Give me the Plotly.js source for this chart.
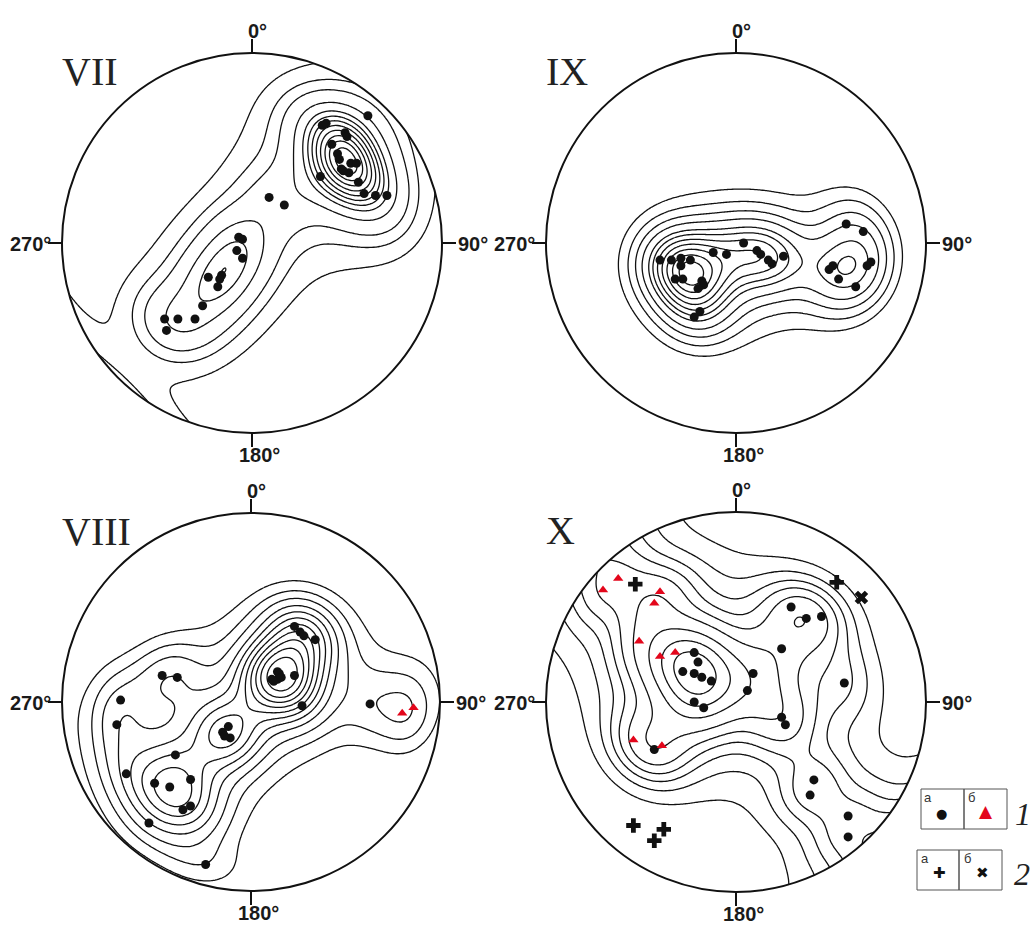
<!DOCTYPE html>
<html><head><meta charset="utf-8">
<script src="https://cdn.plot.ly/plotly-3.0.1.min.js"></script>
<style>html,body{margin:0;padding:0;background:#fff;}#chart{width:1032px;height:925px;}</style>
</head><body><div id="chart"></div>
<script>
// ---- DATA: poles on equal-area net (lower hemisphere), net radius = 100, x = east, y = north ----
const panelNames = ['VII', 'IX', 'VIII', 'X'];
const degreeLabels = ['0°', '90°', '180°', '270°'];

const VII_dots = [[61,67],[37,62],[39,63],[49,58],[50,56],[42,52],[45,47],[46,44],[52,42],[55,42],[47,39],[51,37],[48,38],[36,35],[56,32],[59,26],[65,25],[71,25],[9,24],[17,20],[-7,3],[-5,2],[-8,-4],[-5,-8],[-16,-17],[-17,-19],[-18,-23],[-23,-18],[-26,-33],[-30,-40],[-39,-40],[-46,-40],[-45,-46]];

const IX_dots = [[-40,-9],[-34,-9],[-29,-8],[-24,-9],[-29,-12],[-32,-19],[-28,-19],[-18,-20],[-17,-22],[-20,-24],[-12,-5],[-5,-6],[-19,-36],[-22,-39],[4,0],[11,-4],[13,-6],[17,-9],[19,-11],[25,-7],[58,10],[67,6],[51,-12],[49,-14],[54,-19],[63,-23],[71,-10],[69,-12]];

const VIII_dots = [[23,40],[26,37],[28,35],[34,33],[14,16],[15,15],[11,12],[14,12],[16,13],[12,11],[23,14],[27,-2],[-47,14],[-39,13],[-69,1],[-71,-12],[-15,-16],[-12,-13],[-11,-19],[-14,-18],[63,-1],[-40,-28],[-66,-38],[-51,-43],[-43,-45],[-32,-41],[-36,-57],[-32,-55],[-54,-64],[-24,-86]];
const VIII_tri = [[80,-6],[86,-3]];

const X_dots = [[-22,26],[-20,21],[-28,16],[-22,15],[-18,13],[-13,11],[-22,0],[-17,-3],[9,15],[6,6],[24,28],[24,-8],[26,-12],[29,50],[37,44],[45,45],[57,10],[-43,-25],[41,-41],[39,-49],[59,-60],[59,-71]];
const X_tri = [[-62,65],[-70,59],[-40,58],[-43,52],[-51,32],[-40,24],[-32,26],[-54,-20],[-39,-23]];
const X_plus = [[-53,62],[53,63],[-54,-65],[-38,-67],[-43,-73]];
const X_cross = [[66,55]];

// contour levels (density units) for each diagram
const VII_levels = [1.5, 2.5, 3.6, 5.6, 7.3, 8.4, 9.4, 10.4, 11.4, 12.4, 13.3, 14.2];
const IX_levels = [2.0, 2.9, 3.9, 5.0, 6.3, 7.2, 8.2, 9.2, 10.2, 11.2, 12.1];
const VIII_levels = [1.6, 2.3, 3.05, 3.9, 4.7, 5.5, 6.3, 7.1, 7.9, 8.7, 9.6];
const X_levels = [1.0, 1.6, 2.2, 2.8, 3.5, 4.5, 6.0, 7.5, 9.0];

const legendLetters = ['а', 'б'];
const legendNumbers = ['1', '2'];

// ---- LAYOUT / STYLE ----
const W = 1032, H = 925;
const NET = 100;
const KERNEL = {k1: 28, k2: 5, b: 0.22};
const panels = [
  {name: panelNames[0], cx: 252, cy: 243, r: 190, q: [0, 494, 0, 473], dots: VII_dots, tri: [], plus: [], cross: [], levels: VII_levels},
  {name: panelNames[1], cx: 736, cy: 243, r: 190, q: [494, 1032, 0, 473], dots: IX_dots, tri: [], plus: [], cross: [], levels: IX_levels},
  {name: panelNames[2], cx: 251, cy: 702, r: 189, q: [0, 494, 473, 925], dots: VIII_dots, tri: VIII_tri, plus: [], cross: [], levels: VIII_levels},
  {name: panelNames[3], cx: 736, cy: 702, r: 190, q: [494, 1032, 473, 925], dots: X_dots, tri: X_tri, plus: X_plus, cross: X_cross, levels: X_levels}
];

function toVec(x, y) {
  const R = Math.hypot(x, y);
  if (R < 1e-9) return [0, 0, -1];
  const th = 2 * Math.asin(Math.min(R / Math.SQRT2, 1));
  const s = Math.sin(th);
  return [s * x / R, s * y / R, -Math.cos(th)];
}

const traces = [];
const layout = {
  width: W, height: H, margin: {l: 0, r: 0, t: 0, b: 0},
  paper_bgcolor: '#fff', plot_bgcolor: 'rgba(0,0,0,0)', showlegend: false,
  shapes: [], annotations: []
};
const degFont = {family: 'Liberation Sans, Arial', size: 20, color: '#1a1a1a', weight: 'bold'};

panels.forEach((p, i) => {
  const k = i + 1;
  const xa = k === 1 ? 'x' : 'x' + k, ya = k === 1 ? 'y' : 'y' + k;
  const xk = k === 1 ? 'xaxis' : 'xaxis' + k, yk = k === 1 ? 'yaxis' : 'yaxis' + k;
  const [qx0, qx1, qy0, qy1] = p.q;
  layout[xk] = {domain: [qx0 / W, qx1 / W], range: [(qx0 - p.cx) / p.r, (qx1 - p.cx) / p.r], visible: false, fixedrange: true, anchor: ya};
  layout[yk] = {domain: [1 - qy1 / H, 1 - qy0 / H], range: [(p.cy - qy1) / p.r, (p.cy - qy0) / p.r], visible: false, fixedrange: true, anchor: xa};

  // density grid (axial spherical kernel, narrow + broad component)
  const pts = p.dots.concat(p.tri).map(d => toVec(d[0] / NET, d[1] / NET));
  const n = 211, ext = 1.05;
  const g = [];
  for (let t = 0; t < n; t++) g.push(-ext + 2 * ext * t / (n - 1));
  const z = [];
  for (let j = 0; j < n; j++) {
    const row = [];
    for (let ii = 0; ii < n; ii++) {
      const v = toVec(g[ii], g[j]);
      let s = 0;
      for (const q of pts) {
        const c = Math.abs(v[0] * q[0] + v[1] * q[1] + v[2] * q[2]);
        s += Math.exp(KERNEL.k1 * (c - 1)) + KERNEL.b * Math.exp(KERNEL.k2 * (c - 1));
      }
      row.push(s);
    }
    z.push(row);
  }
  p.levels.forEach(L => traces.push({type: 'contour', x: g, y: g, z: z, xaxis: xa, yaxis: ya, showscale: false, hoverinfo: 'skip',
    autocontour: false, contours: {coloring: 'none', start: L, end: L, size: 1, showlabels: false},
    line: {color: '#111', width: 1.3, smoothing: 1}}));

  const sc = (arr, marker) => traces.push({type: 'scatter', mode: 'markers', x: arr.map(d => d[0] / NET), y: arr.map(d => d[1] / NET),
    xaxis: xa, yaxis: ya, hoverinfo: 'skip', marker: marker});
  if (p.dots.length) sc(p.dots, {symbol: 'circle', size: 9, color: '#111'});
  if (p.tri.length) sc(p.tri, {symbol: 'triangle-up', size: 9, color: '#e3061b'});
  if (p.plus.length) sc(p.plus, {symbol: 'cross', size: 12, color: '#111'});
  if (p.cross.length) sc(p.cross, {symbol: 'x', size: 12, color: '#111'});

  // white mask outside the net circle
  const m = 1.07;
  let path = `M${-m},${-m} L${m},${-m} L${m},${m} L${-m},${m} Z `;
  const N = 240;
  for (let t = 0; t <= N; t++) {
    const a = -2 * Math.PI * t / N;
    path += (t === 0 ? 'M' : 'L') + Math.cos(a).toFixed(5) + ',' + Math.sin(a).toFixed(5) + ' ';
  }
  path += 'Z';
  layout.shapes.push({type: 'path', xref: xa, yref: ya, path: path, fillcolor: '#fff', fillrule: 'evenodd', line: {width: 0}, layer: 'above'});
  layout.shapes.push({type: 'circle', xref: xa, yref: ya, x0: -1, x1: 1, y0: -1, y1: 1, line: {color: '#111', width: 2}, layer: 'above'});
  const tl = 14 / p.r;
  const tk = [[0, 1, 0, 1 + tl], [1, 0, 1 + tl, 0], [0, -1, 0, -1 - tl], [-1, 0, -1 - tl, 0]];
  tk.forEach(t => layout.shapes.push({type: 'line', xref: xa, yref: ya, x0: t[0], y0: t[1], x1: t[2], y1: t[3], line: {color: '#111', width: 2}, layer: 'above'}));

  const u = v => v / p.r;
  layout.annotations.push({xref: xa, yref: ya, x: u(-6), y: 1 + u(22), text: degreeLabels[0], showarrow: false, xanchor: 'left', yanchor: 'middle', font: degFont});
  layout.annotations.push({xref: xa, yref: ya, x: 1 + u(14), y: u(-1), text: degreeLabels[1], showarrow: false, xanchor: 'left', yanchor: 'middle', font: degFont});
  layout.annotations.push({xref: xa, yref: ya, x: u(-15), y: -1 - u(22), text: degreeLabels[2], showarrow: false, xanchor: 'left', yanchor: 'middle', font: degFont});
  layout.annotations.push({xref: xa, yref: ya, x: -1 - u(9), y: u(-1), text: degreeLabels[3], showarrow: false, xanchor: 'right', yanchor: 'middle', font: degFont});
  layout.annotations.push({xref: xa, yref: ya, x: -1 - u(2), y: 1 - u(18), text: p.name, showarrow: false, xanchor: 'left', yanchor: 'middle',
    font: {family: 'Liberation Serif, Times New Roman, serif', size: 40, color: '#222'}});
});

// legend
const px = (x, y) => [x / W, 1 - y / H];
function box(x0, y0, x1, y1) {
  const a = px(x0, y0), b = px(x1, y1);
  layout.shapes.push({type: 'rect', xref: 'paper', yref: 'paper', x0: a[0], y0: a[1], x1: b[0], y1: b[1], line: {color: '#555', width: 1}, fillcolor: 'rgba(0,0,0,0)'});
}
function txt(x, y, s, font, xa) {
  const a = px(x, y);
  layout.annotations.push({xref: 'paper', yref: 'paper', x: a[0], y: a[1], text: s, showarrow: false, xanchor: xa || 'center', yanchor: 'middle', font: font});
}
box(921, 789, 964, 829); box(964, 789, 1007, 829);
box(917, 850, 959, 890); box(959, 850, 1002, 890);
const smallF = {family: 'Liberation Sans, Arial', size: 13, color: '#333'};
txt(928, 797, legendLetters[0], smallF); txt(971, 797, legendLetters[1], smallF);
txt(925, 858, legendLetters[0], smallF); txt(967, 858, legendLetters[1], smallF);
txt(941, 813, '●', {family: 'DejaVu Sans', size: 13, color: '#111'});
txt(986, 811, '▲', {family: 'DejaVu Sans', size: 17, color: '#e3061b'});
txt(939, 873, '✚', {family: 'DejaVu Sans', size: 15, color: '#111'});
txt(982, 873, '✖', {family: 'DejaVu Sans', size: 15, color: '#111'});
const bigF = {family: 'Liberation Serif, Times New Roman, serif', size: 32, color: '#222', style: 'italic'};
txt(1023, 814, legendNumbers[0], bigF); txt(1022, 874, legendNumbers[1], bigF);

Plotly.newPlot('chart', traces, layout, {staticPlot: true, displayModeBar: false});
</script></body></html>
